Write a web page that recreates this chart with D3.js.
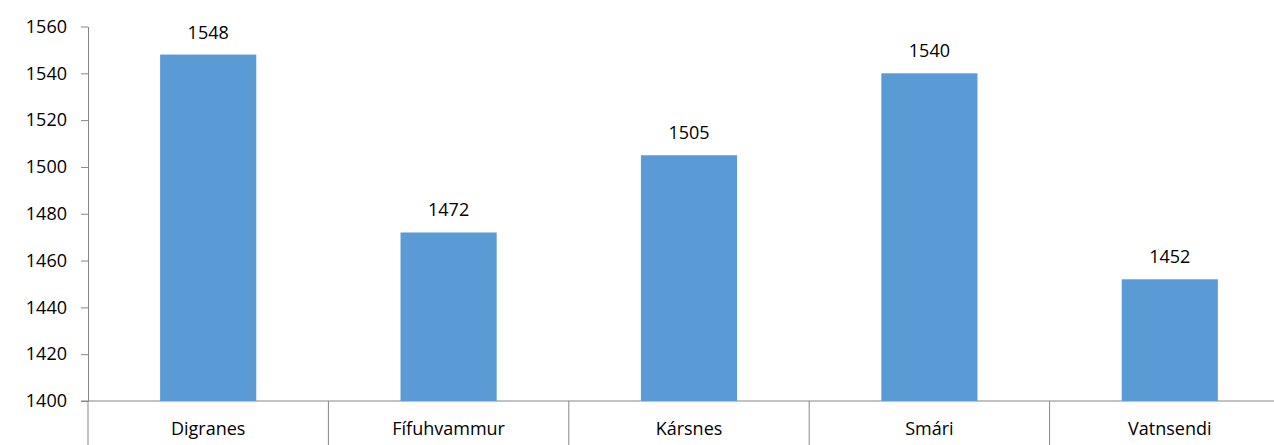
<!DOCTYPE html>
<html>
<head>
    <meta charset="utf-8">
    <title>Bar chart</title>
    <script src="https://d3js.org/d3.v7.min.js"></script>
    <style>
        body { margin: 0; background: #fff; }
        text { font-family: "Open Sans", "Liberation Sans", sans-serif; fill: #000; }
    </style>
</head>
<body>
    <svg id="chart" width="1274" height="445"></svg>
    <script>
        // data
        var categories = ["Digranes", "Fífuhvammur", "Kársnes", "Smári", "Vatnsendi"];
        var values = [1548, 1472, 1505, 1540, 1452];
        var yTicks = [1400, 1420, 1440, 1460, 1480, 1500, 1520, 1540, 1560];

        var svg = d3.select("#chart");
        var mLeft = 88, mRight = 1290, mTop = 26.5, mBottom = 401;
        var axisColor = "#868686";
        var fontSize = 18;

        var x = d3.scaleBand().domain(categories).range([mLeft, mRight])
            .paddingInner(0.6).paddingOuter(0.3);
        var y = d3.scaleLinear().domain([1400, 1560]).range([mBottom, mTop]);

        // y axis
        var yAxis = svg.append("g")
            .attr("transform", "translate(" + mLeft + ",0)")
            .call(d3.axisLeft(y).tickValues(yTicks).tickFormat(d3.format("d"))
                .tickSize(7).tickPadding(14).tickSizeOuter(0));
        yAxis.select(".domain").attr("stroke", axisColor);
        yAxis.selectAll(".tick line").attr("stroke", axisColor);
        yAxis.selectAll(".tick text").attr("font-size", fontSize).attr("font-family", "Open Sans").attr("fill", "#000");

        // x axis: line + separators between categories
        var step = x.step();
        var bounds = d3.range(categories.length + 1).map(function (i) { return mLeft + i * step; });
        svg.append("line")
            .attr("x1", mLeft - 7).attr("x2", 1274)
            .attr("y1", mBottom).attr("y2", mBottom)
            .attr("stroke", axisColor);
        svg.selectAll(".sep").data(bounds).enter().append("line")
            .attr("class", "sep")
            .attr("x1", function (d) { return d; }).attr("x2", function (d) { return d; })
            .attr("y1", mBottom).attr("y2", 445)
            .attr("stroke", axisColor);
        svg.selectAll(".cat").data(categories).enter().append("text")
            .attr("class", "cat")
            .attr("x", function (d) { return x(d) + x.bandwidth() / 2; })
            .attr("y", 435)
            .attr("text-anchor", "middle")
            .attr("font-size", fontSize)
            .text(function (d) { return d; });

        // bars
        svg.selectAll(".bar").data(values).enter().append("rect")
            .attr("class", "bar")
            .attr("x", function (d, i) { return x(categories[i]); })
            .attr("y", function (d) { return y(d); })
            .attr("width", x.bandwidth())
            .attr("height", function (d) { return mBottom - y(d); })
            .attr("fill", "#5B9BD5");

        // value labels
        svg.selectAll(".val").data(values).enter().append("text")
            .attr("class", "val")
            .attr("x", function (d, i) { return x(categories[i]) + x.bandwidth() / 2; })
            .attr("y", function (d) { return y(d) - 16; })
            .attr("text-anchor", "middle")
            .attr("font-size", fontSize)
            .text(function (d) { return d; });
    </script>
</body>
</html>
